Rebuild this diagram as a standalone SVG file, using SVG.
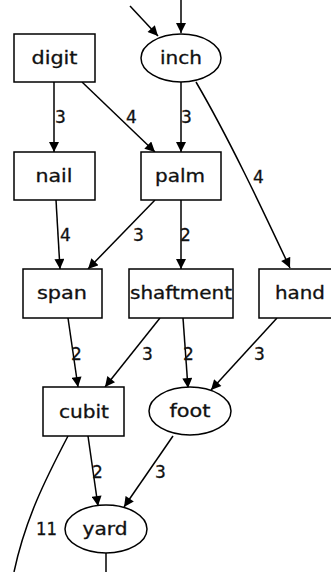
<svg xmlns="http://www.w3.org/2000/svg" width="331" height="572" viewBox="0 0 331 572">
<style>
.n{fill:#fff;stroke:#000;stroke-width:1.5}
.t{font-family:"DejaVu Sans",sans-serif;font-size:17px;text-anchor:middle;fill:#111;stroke:#111;stroke-width:0.3}
.l{font-family:"DejaVu Sans",sans-serif;font-size:17px;fill:#111;stroke:#111;stroke-width:0.3}
.e{fill:none;stroke:#000;stroke-width:1.5}
</style>
<defs>
<marker id="a" viewBox="0 0 10 10" refX="10" refY="5" markerWidth="11" markerHeight="10" markerUnits="userSpaceOnUse" orient="auto">
<path d="M0,0L10,5L0,10z" fill="#000"/>
</marker>
</defs>
<rect width="331" height="572" fill="#fff"/>
<g id="edges">
<path class="e" d="M130,6L158,36" marker-end="url(#a)"/>
<path class="e" d="M181,0L181,33" marker-end="url(#a)"/>
<path class="e" d="M54,82L54,152" marker-end="url(#a)"/>
<path class="e" d="M82,82L155,152" marker-end="url(#a)"/>
<path class="e" d="M181,82L181,152" marker-end="url(#a)"/>
<path class="e" d="M196,82C230,140 265,215 290,268" marker-end="url(#a)"/>
<path class="e" d="M56,200L60,269" marker-end="url(#a)"/>
<path class="e" d="M155,200L88,269" marker-end="url(#a)"/>
<path class="e" d="M181,200L181,269" marker-end="url(#a)"/>
<path class="e" d="M68,318L78,387" marker-end="url(#a)"/>
<path class="e" d="M160,318L105,387" marker-end="url(#a)"/>
<path class="e" d="M183,318L188,388" marker-end="url(#a)"/>
<path class="e" d="M277,318L211,390" marker-end="url(#a)"/>
<path class="e" d="M88,436L98,506" marker-end="url(#a)"/>
<path class="e" d="M173,436L124,507" marker-end="url(#a)"/>
<path class="e" d="M68,436C45,480 25,520 14,572"/>
<path class="e" d="M106,553L106,572"/>
<text class="l" x="55" y="123">3</text>
<text class="l" x="126" y="123">4</text>
<text class="l" x="181" y="123">3</text>
<text class="l" x="253" y="183">4</text>
<text class="l" x="60" y="241">4</text>
<text class="l" x="133" y="241">3</text>
<text class="l" x="180" y="241">2</text>
<text class="l" x="71" y="360">2</text>
<text class="l" x="142" y="360">3</text>
<text class="l" x="183" y="360">2</text>
<text class="l" x="254" y="360">3</text>
<text class="l" x="92" y="478">2</text>
<text class="l" x="155" y="478">3</text>
<text class="l" x="36" y="535" textLength="21" lengthAdjust="spacingAndGlyphs">11</text>
</g>
<g id="digit"><rect class="n" x="14" y="34" width="81" height="48"/><text class="t" x="54.5" y="64" textLength="46" lengthAdjust="spacingAndGlyphs">digit</text></g>
<g id="inch"><ellipse class="n" cx="181" cy="58" rx="40" ry="24"/><text class="t" x="181" y="64" textLength="42" lengthAdjust="spacingAndGlyphs">inch</text></g>
<g id="nail"><rect class="n" x="14" y="152" width="81" height="48"/><text class="t" x="54" y="182" textLength="37" lengthAdjust="spacingAndGlyphs">nail</text></g>
<g id="palm"><rect class="n" x="141" y="152" width="80" height="48"/><text class="t" x="180" y="182" textLength="50" lengthAdjust="spacingAndGlyphs">palm</text></g>
<g id="span"><rect class="n" x="23" y="269" width="79" height="49"/><text class="t" x="62" y="299" textLength="50" lengthAdjust="spacingAndGlyphs">span</text></g>
<g id="shaftment"><rect class="n" x="129" y="269" width="104" height="49"/><text class="t" x="181" y="299" textLength="102" lengthAdjust="spacingAndGlyphs">shaftment</text></g>
<g id="hand"><rect class="n" x="259" y="269" width="80" height="49"/><text class="t" x="300" y="299" textLength="50" lengthAdjust="spacingAndGlyphs">hand</text></g>
<g id="cubit"><rect class="n" x="43" y="387" width="81" height="49"/><text class="t" x="84" y="418" textLength="50" lengthAdjust="spacingAndGlyphs">cubit</text></g>
<g id="foot"><ellipse class="n" cx="190" cy="411" rx="41" ry="24"/><text class="t" x="190" y="417" textLength="41" lengthAdjust="spacingAndGlyphs">foot</text></g>
<g id="yard"><ellipse class="n" cx="106" cy="529" rx="41" ry="24"/><text class="t" x="105" y="535" textLength="45" lengthAdjust="spacingAndGlyphs">yard</text></g>
</svg>
